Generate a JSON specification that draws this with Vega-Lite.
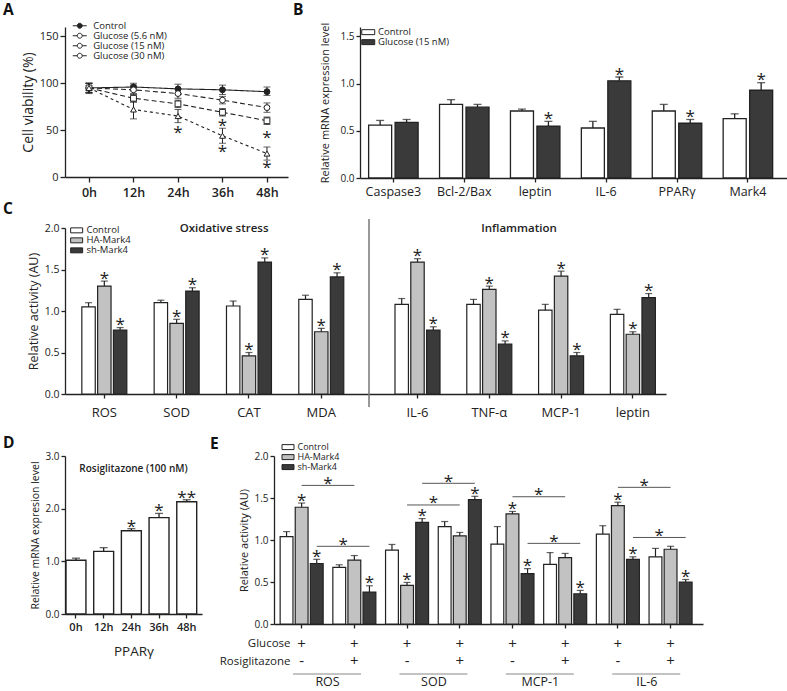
{
"$schema": "https://vega.github.io/schema/vega-lite/v6.json",
"background": "white",
"padding": {"left": 3, "top": 3, "right": 0, "bottom": 0},
"config": {
  "font": "Open Sans",
  "view": {"stroke": null},
  "axis": {"grid": false, "domainColor": "#222", "tickColor": "#222", "labelColor": "#222", "titleColor": "#222", "titleFontWeight": "normal", "domainWidth": 1.3, "tickWidth": 1.3, "tickSize": 4, "labelFont": "Open Sans", "titleFont": "Open Sans"},
  "legend": {"padding": 0, "labelColor": "#222", "labelFont": "Open Sans"},
  "title": {"font": "Open Sans", "color": "#111"},
  "text": {"font": "Open Sans", "color": "#222"}
},
"datasets": {
  "A": [
    {"t":"0h","s":"Control","v":95,"lo":90,"hi":100},
    {"t":"12h","s":"Control","v":96,"lo":92,"hi":100},
    {"t":"24h","s":"Control","v":94,"lo":89,"hi":99},
    {"t":"36h","s":"Control","v":93,"lo":88,"hi":98},
    {"t":"48h","s":"Control","v":91,"lo":87,"hi":96},
    {"t":"0h","s":"Glucose (5.6 nM)","v":95,"lo":90,"hi":100},
    {"t":"12h","s":"Glucose (5.6 nM)","v":93,"lo":89,"hi":98},
    {"t":"24h","s":"Glucose (5.6 nM)","v":89,"lo":84,"hi":94},
    {"t":"36h","s":"Glucose (5.6 nM)","v":82,"lo":78,"hi":86},
    {"t":"48h","s":"Glucose (5.6 nM)","v":74,"lo":69,"hi":79},
    {"t":"0h","s":"Glucose (15 nM)","v":95,"lo":90,"hi":100},
    {"t":"12h","s":"Glucose (15 nM)","v":84,"lo":80,"hi":88},
    {"t":"24h","s":"Glucose (15 nM)","v":78,"lo":74,"hi":82},
    {"t":"36h","s":"Glucose (15 nM)","v":69,"lo":65,"hi":73},
    {"t":"48h","s":"Glucose (15 nM)","v":60,"lo":56,"hi":64},
    {"t":"0h","s":"Glucose (30 nM)","v":95,"lo":89,"hi":100},
    {"t":"12h","s":"Glucose (30 nM)","v":72,"lo":62,"hi":80},
    {"t":"24h","s":"Glucose (30 nM)","v":65,"lo":58,"hi":72},
    {"t":"36h","s":"Glucose (30 nM)","v":44,"lo":36,"hi":52},
    {"t":"48h","s":"Glucose (30 nM)","v":25,"lo":18,"hi":32}
  ],
  "Astars": [
    {"t":"24h","y":51},{"t":"36h","y":59},{"t":"36h","y":31},{"t":"48h","y":46},{"t":"48h","y":14}
  ],
  "B": [
    {"cat":"Caspase3","grp":"Control","v":0.56,"top":0.61},
    {"cat":"Caspase3","grp":"Glucose (15 nM)","v":0.59,"top":0.62},
    {"cat":"Bcl-2/Bax","grp":"Control","v":0.78,"top":0.83},
    {"cat":"Bcl-2/Bax","grp":"Glucose (15 nM)","v":0.75,"top":0.78},
    {"cat":"leptin","grp":"Control","v":0.71,"top":0.73},
    {"cat":"leptin","grp":"Glucose (15 nM)","v":0.55,"top":0.60,"star":"*"},
    {"cat":"IL-6","grp":"Control","v":0.53,"top":0.60},
    {"cat":"IL-6","grp":"Glucose (15 nM)","v":1.03,"top":1.07,"star":"*"},
    {"cat":"PPARγ","grp":"Control","v":0.71,"top":0.78},
    {"cat":"PPARγ","grp":"Glucose (15 nM)","v":0.58,"top":0.62,"star":"*"},
    {"cat":"Mark4","grp":"Control","v":0.63,"top":0.68},
    {"cat":"Mark4","grp":"Glucose (15 nM)","v":0.93,"top":1.01,"star":"*"}
  ],
  "C": [
    {"p":"ox","cat":"ROS","grp":"Control","v":1.05,"top":1.10},
    {"p":"ox","cat":"ROS","grp":"HA-Mark4","v":1.30,"top":1.36,"star":"*"},
    {"p":"ox","cat":"ROS","grp":"sh-Mark4","v":0.77,"top":0.80,"star":"*"},
    {"p":"ox","cat":"SOD","grp":"Control","v":1.10,"top":1.13},
    {"p":"ox","cat":"SOD","grp":"HA-Mark4","v":0.85,"top":0.90,"star":"*"},
    {"p":"ox","cat":"SOD","grp":"sh-Mark4","v":1.24,"top":1.28,"star":"*"},
    {"p":"ox","cat":"CAT","grp":"Control","v":1.06,"top":1.12},
    {"p":"ox","cat":"CAT","grp":"HA-Mark4","v":0.46,"top":0.50,"star":"*"},
    {"p":"ox","cat":"CAT","grp":"sh-Mark4","v":1.59,"top":1.64,"star":"*"},
    {"p":"ox","cat":"MDA","grp":"Control","v":1.14,"top":1.19},
    {"p":"ox","cat":"MDA","grp":"HA-Mark4","v":0.75,"top":0.79,"star":"*"},
    {"p":"ox","cat":"MDA","grp":"sh-Mark4","v":1.41,"top":1.46,"star":"*"},
    {"p":"in","cat":"IL-6","grp":"Control","v":1.08,"top":1.15},
    {"p":"in","cat":"IL-6","grp":"HA-Mark4","v":1.59,"top":1.63,"star":"*"},
    {"p":"in","cat":"IL-6","grp":"sh-Mark4","v":0.77,"top":0.81,"star":"*"},
    {"p":"in","cat":"TNF-α","grp":"Control","v":1.08,"top":1.14},
    {"p":"in","cat":"TNF-α","grp":"HA-Mark4","v":1.26,"top":1.30,"star":"*"},
    {"p":"in","cat":"TNF-α","grp":"sh-Mark4","v":0.60,"top":0.64,"star":"*"},
    {"p":"in","cat":"MCP-1","grp":"Control","v":1.01,"top":1.08},
    {"p":"in","cat":"MCP-1","grp":"HA-Mark4","v":1.42,"top":1.48,"star":"*"},
    {"p":"in","cat":"MCP-1","grp":"sh-Mark4","v":0.46,"top":0.50,"star":"*"},
    {"p":"in","cat":"leptin","grp":"Control","v":0.96,"top":1.02},
    {"p":"in","cat":"leptin","grp":"HA-Mark4","v":0.72,"top":0.75,"star":"*"},
    {"p":"in","cat":"leptin","grp":"sh-Mark4","v":1.16,"top":1.21,"star":"*"}
  ],
  "D": [
    {"t":"0h","v":1.02,"top":1.06},
    {"t":"12h","v":1.19,"top":1.26},
    {"t":"24h","v":1.58,"top":1.62,"star":"*"},
    {"t":"36h","v":1.83,"top":1.91,"star":"*"},
    {"t":"48h","v":2.13,"top":2.17,"star":"**"}
  ],
  "E": [
    {"sub":"ROS|-","grp":"Control","v":1.04,"top":1.10},
    {"sub":"ROS|-","grp":"HA-Mark4","v":1.39,"top":1.44,"star":"*"},
    {"sub":"ROS|-","grp":"sh-Mark4","v":0.72,"top":0.77,"star":"*"},
    {"sub":"ROS|+","grp":"Control","v":0.675,"top":0.705},
    {"sub":"ROS|+","grp":"HA-Mark4","v":0.76,"top":0.815},
    {"sub":"ROS|+","grp":"sh-Mark4","v":0.38,"top":0.455,"star":"*"},
    {"sub":"SOD|-","grp":"Control","v":0.88,"top":0.947},
    {"sub":"SOD|-","grp":"HA-Mark4","v":0.46,"top":0.495,"star":"*"},
    {"sub":"SOD|-","grp":"sh-Mark4","v":1.21,"top":1.255,"star":"*"},
    {"sub":"SOD|+","grp":"Control","v":1.16,"top":1.22},
    {"sub":"SOD|+","grp":"HA-Mark4","v":1.05,"top":1.09},
    {"sub":"SOD|+","grp":"sh-Mark4","v":1.48,"top":1.52,"star":"*"},
    {"sub":"MCP-1|-","grp":"Control","v":0.95,"top":1.16},
    {"sub":"MCP-1|-","grp":"HA-Mark4","v":1.31,"top":1.34,"star":"*"},
    {"sub":"MCP-1|-","grp":"sh-Mark4","v":0.60,"top":0.66,"star":"*"},
    {"sub":"MCP-1|+","grp":"Control","v":0.71,"top":0.85},
    {"sub":"MCP-1|+","grp":"HA-Mark4","v":0.79,"top":0.84},
    {"sub":"MCP-1|+","grp":"sh-Mark4","v":0.36,"top":0.40,"star":"*"},
    {"sub":"IL-6|-","grp":"Control","v":1.07,"top":1.17},
    {"sub":"IL-6|-","grp":"HA-Mark4","v":1.41,"top":1.45,"star":"*"},
    {"sub":"IL-6|-","grp":"sh-Mark4","v":0.77,"top":0.80,"star":"*"},
    {"sub":"IL-6|+","grp":"Control","v":0.80,"top":0.90},
    {"sub":"IL-6|+","grp":"HA-Mark4","v":0.89,"top":0.925},
    {"sub":"IL-6|+","grp":"sh-Mark4","v":0.50,"top":0.53,"star":"*"}
  ],
  "Esig": [
    {"from":"ROS|-","to":"ROS|+","y":1.65,"b":"HA"},
    {"from":"ROS|-","to":"ROS|+","y":0.925,"b":"sh"},
    {"from":"SOD|-","to":"SOD|+","y":1.675,"b":"sh"},
    {"from":"SOD|-","to":"SOD|+","y":1.417,"b":"HA"},
    {"from":"MCP-1|-","to":"MCP-1|+","y":1.515,"b":"HA"},
    {"from":"MCP-1|-","to":"MCP-1|+","y":0.96,"b":"sh"},
    {"from":"IL-6|-","to":"IL-6|+","y":1.627,"b":"HA"},
    {"from":"IL-6|-","to":"IL-6|+","y":1.03,"b":"sh"}
  ],
  "Erosi": [
    {"sub":"ROS|-","r":"-"},{"sub":"ROS|+","r":"+"},
    {"sub":"SOD|-","r":"-"},{"sub":"SOD|+","r":"+"},
    {"sub":"MCP-1|-","r":"-"},{"sub":"MCP-1|+","r":"+"},
    {"sub":"IL-6|-","r":"-"},{"sub":"IL-6|+","r":"+"}
  ],
  "Egrp": [{"g":"ROS"},{"g":"SOD"},{"g":"MCP-1"},{"g":"IL-6"}]
},
"resolve": {"scale": {"fill": "independent", "shape": "independent", "strokeDash": "independent", "xOffset": "independent"}, "legend": {"fill": "independent", "shape": "independent"}},
"vconcat": [
 {"resolve": {"scale": {"fill": "independent", "shape": "independent", "strokeDash": "independent", "xOffset": "independent"}, "legend": {"fill": "independent", "shape": "independent"}},
  "vconcat": [
  {"resolve": {"scale": {"fill": "independent", "shape": "independent", "strokeDash": "independent", "xOffset": "independent"}, "legend": {"fill": "independent", "shape": "independent"}},
   "hconcat": [
   {
    "width": 223, "height": 150,
    "title": {"text": "A", "anchor": "start", "frame": "group", "dx": -62, "fontSize": 15.5, "fontWeight": "bold", "baseline": "alphabetic", "offset": -9.5},
    "encoding": {"x": {"field": "t", "type": "ordinal", "scale": {"type": "point", "domain": ["0h","12h","24h","36h","48h"], "padding": 0.506, "align": 0.533}, "axis": {"title": null, "labelAngle": 0, "labelFontSize": 12.5, "labelFontWeight": 600, "labelPadding": 4, "tickSize": 5}}},
    "layer": [
     {"data": {"name": "A"}, "mark": {"type": "line", "color": "#222", "strokeWidth": 1.1},
      "encoding": {"y": {"field": "v", "type": "quantitative", "scale": {"domain": [0, 150]}, "axis": {"values": [0, 50, 100, 150], "title": "Cell viability (%)", "titleFontSize": 14, "labelFontSize": 11, "tickSize": 5, "labelPadding": 2, "titlePadding": 4}},
       "strokeDash": {"field": "s", "type": "nominal", "scale": {"range": [[1,0],[5,3],[3,3],[5,3]]}, "legend": null}}},
     {"data": {"name": "A"}, "mark": {"type": "rule", "color": "#222", "strokeWidth": 1},
      "encoding": {"y": {"field": "lo", "type": "quantitative"}, "y2": {"field": "hi"}}},
     {"data": {"name": "A"}, "mark": {"type": "tick", "color": "#222", "size": 7, "thickness": 1},
      "encoding": {"y": {"field": "lo", "type": "quantitative"}}},
     {"data": {"name": "A"}, "mark": {"type": "tick", "color": "#222", "size": 7, "thickness": 1},
      "encoding": {"y": {"field": "hi", "type": "quantitative"}}},
     {"data": {"name": "A"}, "mark": {"type": "point", "filled": true, "size": 34, "stroke": "#222", "strokeWidth": 1, "opacity": 1},
      "encoding": {"y": {"field": "v", "type": "quantitative"},
       "fill": {"field": "s", "type": "nominal", "scale": {"domain": ["Control","Glucose (5.6 nM)","Glucose (15 nM)","Glucose (30 nM)"], "range": ["#222","white","white","white"]},
        "legend": {"orient": "none", "legendX": 10, "legendY": -6, "title": null, "labelFontSize": 9.5, "symbolSize": 64, "symbolType": "M-1.75,0H-0.62M0.62,0H1.75M-0.62,0A0.62,0.62 0 1,1 0.62,0A0.62,0.62 0 1,1 -0.62,0Z", "symbolStrokeColor": "#222", "symbolStrokeWidth": 1, "symbolOpacity": 1, "rowPadding": -1, "labelOffset": 8.7, "padding": 0}},
       "shape": {"field": "s", "type": "nominal", "scale": {"range": ["circle","square","triangle-up","circle"]}, "legend": null}}},
     {"data": {"name": "Astars"}, "mark": {"type": "text", "text": "*", "fontSize": 17, "baseline": "middle", "dy": 4},
      "encoding": {"y": {"field": "y", "type": "quantitative"}}}
    ]
   },
   {
    "width": 428, "height": 151,
    "title": {"text": "B", "anchor": "start", "frame": "group", "dx": -67, "fontSize": 15.5, "fontWeight": "bold", "baseline": "alphabetic", "offset": -8.5},
    "data": {"name": "B"},
    "encoding": {
     "x": {"field": "cat", "type": "nominal", "scale": {"domain": ["Caspase3","Bcl-2/Bax","leptin","IL-6","PPARγ","Mark4"], "paddingInner": 0.302, "paddingOuter": 0.169, "align": 0.36}, "axis": {"title": null, "labelAngle": 0, "labelFontSize": 12.5, "labelPadding": 3, "tickSize": 4}},
     "xOffset": {"field": "grp", "type": "nominal", "scale": {"domain": ["Control","Glucose (15 nM)"], "paddingInner": 0.13, "paddingOuter": 0}}
    },
    "layer": [
     {"mark": {"type": "bar", "stroke": "#222", "strokeWidth": 1.3},
      "encoding": {"y": {"field": "v", "type": "quantitative", "scale": {"domain": [0, 1.5]}, "axis": {"values": [0, 0.5, 1, 1.5], "format": ".1f", "title": "Relative mRNA expression level", "titleFontSize": 11, "labelFontSize": 10, "labelPadding": 2, "titlePadding": 9}},
       "fill": {"field": "grp", "type": "nominal", "scale": {"domain": ["Control","Glucose (15 nM)"], "range": ["white","#3a3a3a"]},
        "legend": {"orient": "none", "legendX": 3.5, "legendY": 0.4, "title": null, "labelFontSize": 9.5, "symbolSize": 64, "symbolType": "M-1.62,-0.62H1.62V0.62H-1.62Z", "symbolStrokeColor": "#222", "symbolStrokeWidth": 1, "symbolOpacity": 1, "rowPadding": -1.5, "labelOffset": 5, "padding": 0}}}},
     {"mark": {"type": "rule", "color": "#222", "strokeWidth": 1.3},
      "encoding": {"y": {"field": "v", "type": "quantitative"}, "y2": {"field": "top"}}},
     {"mark": {"type": "tick", "color": "#222", "size": 8, "thickness": 1.3},
      "encoding": {"y": {"field": "top", "type": "quantitative"}}},
     {"transform": [{"filter": "isValid(datum.star)"}], "mark": {"type": "text", "fontSize": 17, "baseline": "middle", "dy": -2.5},
      "encoding": {"y": {"field": "top", "type": "quantitative"}, "text": {"field": "star"}}}
    ]
   }
  ], "spacing": 5},
  {"resolve": {"scale": {"fill": "independent", "xOffset": "independent"}, "legend": {"fill": "independent"}},
   "hconcat": [
   {
    "width": 303, "height": 166,
    "title": {"text": "C", "anchor": "start", "frame": "group", "dx": -62, "fontSize": 15.5, "fontWeight": "bold", "baseline": "alphabetic", "offset": -7},
    "layer": [
     {"data": {"name": "C"}, "transform": [{"filter": "datum.p === 'ox'"}],
      "encoding": {
       "x": {"field": "cat", "type": "nominal", "scale": {"domain": ["ROS","SOD","CAT","MDA"], "paddingInner": 0.378, "paddingOuter": 0.284, "align": 0.41}, "axis": {"title": null, "labelAngle": 0, "labelFontSize": 13, "labelPadding": 8, "tickSize": 4}},
       "xOffset": {"field": "grp", "type": "nominal", "scale": {"domain": ["Control","HA-Mark4","sh-Mark4"], "paddingInner": 0.15, "paddingOuter": 0}}
      },
      "layer": [
       {"mark": {"type": "bar", "stroke": "#222", "strokeWidth": 1.2},
        "encoding": {"y": {"field": "v", "type": "quantitative", "scale": {"domain": [0, 2]}, "axis": {"values": [0, 0.5, 1, 1.5, 2], "format": ".1f", "title": "Relative activity (AU)", "titleFontSize": 12.5, "labelFontSize": 10.5, "labelPadding": 2, "titlePadding": 4}},
         "fill": {"field": "grp", "type": "nominal", "scale": {"domain": ["Control","HA-Mark4","sh-Mark4"], "range": ["white","#c2c2c2","#3a3a3a"]},
          "legend": {"orient": "none", "legendX": 6.9, "legendY": -2.4, "title": null, "labelFontSize": 9.5, "symbolSize": 64, "symbolType": "M-1.5,-0.62H1.5V0.62H-1.5Z", "symbolStrokeColor": "#222", "symbolStrokeWidth": 1, "symbolOpacity": 1, "rowPadding": -2.5, "labelOffset": 5, "padding": 0}}}},
       {"mark": {"type": "rule", "color": "#222", "strokeWidth": 1.2},
        "encoding": {"y": {"field": "v", "type": "quantitative"}, "y2": {"field": "top"}}},
       {"mark": {"type": "tick", "color": "#222", "size": 7, "thickness": 1.2},
        "encoding": {"y": {"field": "top", "type": "quantitative"}}},
       {"transform": [{"filter": "isValid(datum.star)"}], "mark": {"type": "text", "fontSize": 17, "baseline": "middle", "dy": -2.5},
        "encoding": {"y": {"field": "top", "type": "quantitative"}, "text": {"field": "star"}}}
      ]
     },
     {"data": {"values": [{"lab": "Oxidative stress"}]}, "mark": {"type": "text", "fontSize": 11.5, "fontWeight": 600, "baseline": "middle"},
      "encoding": {"x": {"datum": 0.525, "type": "quantitative", "scale": {"domain": [0, 1]}, "axis": null}, "y": {"datum": 1.99, "type": "quantitative"}, "text": {"field": "lab"}}}
    ],
    "resolve": {"scale": {"x": "independent"}}
   },
   {
    "width": 297, "height": 166,
    "layer": [
     {"data": {"name": "C"}, "transform": [{"filter": "datum.p === 'in'"}],
      "encoding": {
       "x": {"field": "cat", "type": "nominal", "scale": {"domain": ["IL-6","TNF-α","MCP-1","leptin"], "paddingInner": 0.373, "paddingOuter": 0.255, "align": 0.71}, "axis": {"title": null, "labelAngle": 0, "labelFontSize": 13, "labelPadding": 8, "tickSize": 4}},
       "xOffset": {"field": "grp", "type": "nominal", "scale": {"domain": ["Control","HA-Mark4","sh-Mark4"], "paddingInner": 0.15, "paddingOuter": 0}}
      },
      "layer": [
       {"mark": {"type": "bar", "stroke": "#222", "strokeWidth": 1.2},
        "encoding": {"y": {"field": "v", "type": "quantitative", "scale": {"domain": [0, 2]}, "axis": null},
         "fill": {"field": "grp", "type": "nominal", "scale": {"domain": ["Control","HA-Mark4","sh-Mark4"], "range": ["white","#c2c2c2","#3a3a3a"]}, "legend": null}}},
       {"mark": {"type": "rule", "color": "#222", "strokeWidth": 1.2},
        "encoding": {"y": {"field": "v", "type": "quantitative", "axis": null}, "y2": {"field": "top"}}},
       {"mark": {"type": "tick", "color": "#222", "size": 7, "thickness": 1.2},
        "encoding": {"y": {"field": "top", "type": "quantitative", "axis": null}}},
       {"transform": [{"filter": "isValid(datum.star)"}], "mark": {"type": "text", "fontSize": 17, "baseline": "middle", "dy": -2.5},
        "encoding": {"y": {"field": "top", "type": "quantitative", "axis": null}, "text": {"field": "star"}}}
      ]
     },
     {"data": {"values": [{"lab": "Inflammation"}]}, "mark": {"type": "text", "fontSize": 11.5, "fontWeight": 600, "baseline": "middle"},
      "encoding": {"x": {"datum": 0.505, "type": "quantitative", "scale": {"domain": [0, 1]}, "axis": null}, "y": {"datum": 1.99, "type": "quantitative", "axis": null}, "text": {"field": "lab"}}},
     {"data": {"values": [{"d": 0}]}, "mark": {"type": "rule", "color": "#333", "strokeWidth": 1},
      "encoding": {"x": {"field": "d", "type": "quantitative", "scale": {"domain": [0, 1]}, "axis": null}, "y": {"datum": 2.108, "type": "quantitative", "axis": null}, "y2": {"datum": -0.157}}}
    ],
    "resolve": {"scale": {"x": "independent"}}
   }
  ], "spacing": 0}
 ], "spacing": 3},
 {"resolve": {"scale": {"fill": "independent", "xOffset": "independent"}, "legend": {"fill": "independent"}},
  "hconcat": [
  {
   "width": 137, "height": 158,
   "title": {"text": "D", "anchor": "start", "frame": "group", "dx": -62, "fontSize": 15.5, "fontWeight": "bold", "baseline": "alphabetic", "offset": -12},
   "layer": [
    {"data": {"name": "D"},
     "encoding": {"x": {"field": "t", "type": "nominal", "scale": {"domain": ["0h","12h","24h","36h","48h"], "paddingInner": 0.28, "paddingOuter": 0.114, "align": 0.16}, "axis": {"title": "PPARγ", "titleFontSize": 13.5, "titlePadding": 12, "labelAngle": 0, "labelFontSize": 11, "labelFontWeight": 600, "labelPadding": 3, "tickSize": 4}}},
     "layer": [
      {"mark": {"type": "bar", "fill": "white", "stroke": "#222", "strokeWidth": 1.4},
       "encoding": {"y": {"field": "v", "type": "quantitative", "scale": {"domain": [0, 3]}, "axis": {"values": [0, 1, 2, 3], "format": ".1f", "title": "Relative mRNA expresion level", "titleFontSize": 10.5, "labelFontSize": 10, "labelPadding": 2, "titlePadding": 4}}}},
      {"mark": {"type": "rule", "color": "#222", "strokeWidth": 1.3},
       "encoding": {"y": {"field": "v", "type": "quantitative"}, "y2": {"field": "top"}}},
      {"mark": {"type": "tick", "color": "#222", "size": 8, "thickness": 1.3},
       "encoding": {"y": {"field": "top", "type": "quantitative"}}},
      {"transform": [{"filter": "isValid(datum.star)"}], "mark": {"type": "text", "fontSize": 17, "baseline": "middle", "dy": -2},
       "encoding": {"y": {"field": "top", "type": "quantitative"}, "text": {"field": "star"}}}
     ]
    },
    {"data": {"values": [{"lab": "Rosiglitazone (100 nM)"}]}, "mark": {"type": "text", "fontSize": 10, "fontWeight": 600, "baseline": "middle"},
     "encoding": {"x": {"datum": 0.5, "type": "quantitative", "scale": {"domain": [0, 1]}, "axis": null}, "y": {"datum": 2.755, "type": "quantitative"}, "text": {"field": "lab"}}}
   ],
   "resolve": {"scale": {"x": "independent"}}
  },
  {
   "width": 429, "height": 168,
   "title": {"text": "E", "anchor": "start", "frame": "group", "dx": -64, "fontSize": 15.5, "fontWeight": "bold", "baseline": "alphabetic", "offset": -21.5},
   "layer": [
    {"layer": [
      {"data": {"name": "E"},
       "encoding": {
        "x": {"field": "sub", "type": "nominal", "scale": {"domain": ["ROS|-","ROS|+","SOD|-","SOD|+","MCP-1|-","MCP-1|+","IL-6|-","IL-6|+"], "paddingInner": 0.184, "paddingOuter": 0.162, "align": 0.36},
         "axis": {"labelExpr": "'+'", "labelAngle": 0, "labelFontSize": 15, "labelBaseline": "top", "labelPadding": 8.5, "tickSize": 4,
          "title": ["Glucose", "Rosiglitazone"], "titleAngle": 0, "titleAlign": "right", "titleBaseline": "middle", "titleX": 16, "titleY": 19, "titleFontSize": 11.5, "titleLineHeight": 18}},
        "xOffset": {"field": "grp", "type": "nominal", "scale": {"domain": ["Control","HA-Mark4","sh-Mark4"], "paddingInner": 0.15, "paddingOuter": 0}}
       },
       "layer": [
        {"mark": {"type": "bar", "stroke": "#222", "strokeWidth": 1.2},
         "encoding": {"y": {"field": "v", "type": "quantitative", "scale": {"domain": [0, 2]}, "axis": {"values": [0, 0.5, 1, 1.5, 2], "format": ".1f", "title": "Relative activity (AU)", "titleFontSize": 11, "labelFontSize": 10, "labelPadding": 2, "titlePadding": 4}},
          "fill": {"field": "grp", "type": "nominal", "scale": {"domain": ["Control","HA-Mark4","sh-Mark4"], "range": ["white","#c2c2c2","#3a3a3a"]},
           "legend": {"orient": "none", "legendX": 9.5, "legendY": -13.4, "title": null, "labelFontSize": 9, "symbolSize": 64, "symbolType": "M-1.5,-0.62H1.5V0.62H-1.5Z", "symbolStrokeColor": "#222", "symbolStrokeWidth": 1, "symbolOpacity": 1, "rowPadding": -4, "labelOffset": 5, "padding": 0}}}},
        {"mark": {"type": "rule", "color": "#222", "strokeWidth": 1.2},
         "encoding": {"y": {"field": "v", "type": "quantitative"}, "y2": {"field": "top"}}},
        {"mark": {"type": "tick", "color": "#222", "size": 7, "thickness": 1.2},
         "encoding": {"y": {"field": "top", "type": "quantitative"}}},
        {"transform": [{"filter": "isValid(datum.star)"}], "mark": {"type": "text", "fontSize": 17, "baseline": "middle", "dy": -2.5},
         "encoding": {"y": {"field": "top", "type": "quantitative"}, "text": {"field": "star"}}}
       ]
      },
      {"data": {"name": "Erosi"}, "mark": {"type": "text", "fontSize": 15, "baseline": "middle"},
       "encoding": {"x": {"field": "sub", "type": "nominal"}, "y": {"datum": -0.44, "type": "quantitative"}, "text": {"field": "r"}}},
      {"data": {"name": "Esig"}, "transform": [{"filter": "datum.b === 'HA'"}], "mark": {"type": "rule", "color": "#555", "strokeWidth": 1},
       "encoding": {"x": {"field": "from", "type": "nominal", "bandPosition": 0.5}, "x2": {"field": "to", "bandPosition": 0.5}, "y": {"field": "y", "type": "quantitative"}}},
      {"data": {"name": "Esig"}, "transform": [{"filter": "datum.b === 'sh'"}], "mark": {"type": "rule", "color": "#555", "strokeWidth": 1},
       "encoding": {"x": {"field": "from", "type": "nominal", "bandPosition": 0.851}, "x2": {"field": "to", "bandPosition": 0.851}, "y": {"field": "y", "type": "quantitative"}}},
      {"data": {"name": "Esig"}, "transform": [{"filter": "datum.b === 'HA'"}], "mark": {"type": "text", "text": "*", "fontSize": 17, "baseline": "middle", "dx": 26.35, "dy": -1.7},
       "encoding": {"x": {"field": "from", "type": "nominal", "bandPosition": 0.5}, "y": {"field": "y", "type": "quantitative"}}},
      {"data": {"name": "Esig"}, "transform": [{"filter": "datum.b === 'sh'"}], "mark": {"type": "text", "text": "*", "fontSize": 17, "baseline": "middle", "dx": 26.35, "dy": -1.7},
       "encoding": {"x": {"field": "from", "type": "nominal", "bandPosition": 0.851}, "y": {"field": "y", "type": "quantitative"}}}
    ]},
    {"data": {"name": "Egrp"}, "mark": {"type": "tick", "color": "#555", "size": 68, "thickness": 1},
     "encoding": {"x": {"field": "g", "type": "nominal", "scale": {"type": "point", "domain": ["ROS","SOD","MCP-1","IL-6"], "padding": 0.516, "align": 0.483}, "axis": {"orient": "bottom", "offset": 49, "domain": false, "ticks": false, "tickSize": 0, "labelFontSize": 12.5, "labelPadding": 2, "labelAngle": 0, "title": null}},
      "y": {"datum": -0.595, "type": "quantitative"}}}
   ],
   "resolve": {"scale": {"x": "independent"}}
  }
 ], "spacing": 8}
],
"spacing": 16
}
